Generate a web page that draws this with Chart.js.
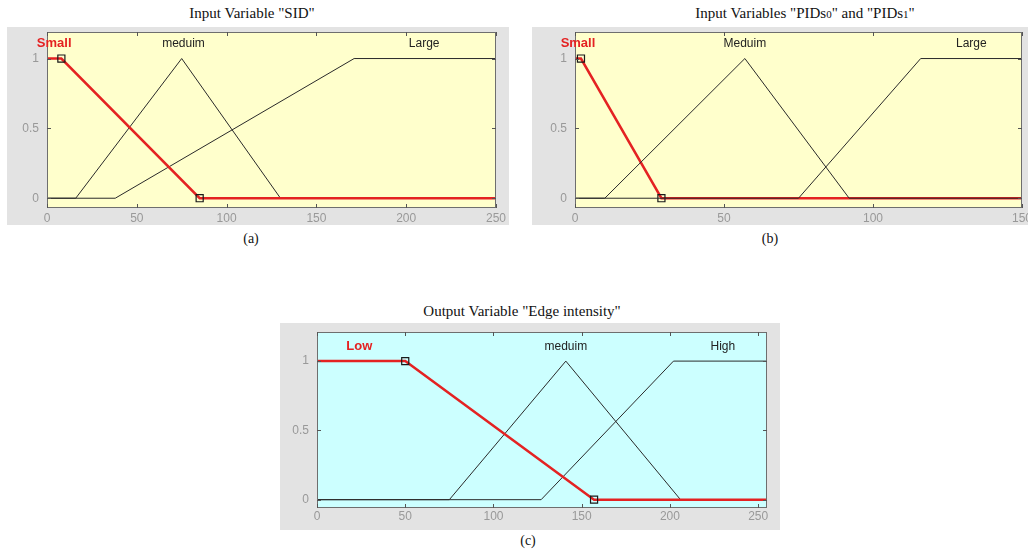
<!DOCTYPE html>
<html>
<head>
<meta charset="utf-8">
<script src="https://cdn.jsdelivr.net/npm/chart.js@4.4.1/dist/chart.umd.min.js"></script>
<style>
    body { margin: 0; background: #fff; width: 1028px; height: 555px; overflow: hidden; position: relative; font-family: "Liberation Serif", serif; }
    canvas { position: absolute; background: #e3e3e3; }
    .titulo { position: absolute; font-size: 15px; color: #111; white-space: nowrap; transform: translateX(-50%); }
    .titulo small { font-size: 11px; }
    .cap { position: absolute; font-size: 14px; color: #111; transform: translateX(-50%); }
</style>
</head>
<body>
<div class="titulo" style="left:252px; top:5px;">Input Variable "SID"</div>
<div class="titulo" style="left:805px; top:5px;">Input Variables "PIDs<small>0</small>" and "PIDs<small>1</small>"</div>
<div class="titulo" style="left:522px; top:303px;">Output Variable "Edge intensity"</div>
<div class="cap" style="left:251px; top:231px;">(a)</div>
<div class="cap" style="left:770px; top:231px;">(b)</div>
<div class="cap" style="left:528px; top:533px;">(c)</div>

<canvas id="graficoSID" width="502" height="198" style="left:7px; top:27px;"></canvas>
<canvas id="graficoPID" width="496" height="198" style="left:532px; top:27px;"></canvas>
<canvas id="graficoEdge" width="500" height="207" style="left:280px; top:323px;"></canvas>

<script>
// Ejes
const sidRango = [0, 250];
const pidRango = [0, 150];
const edgeRango = [0, 255];
const sidTicks = [0, 50, 100, 150, 200, 250];
const pidTicks = [0, 50, 100, 150];
const edgeTicks = [0, 50, 100, 150, 200, 250];
const gradoTicks = [0, 0.5, 1];

// (a) Input Variable "SID"
const sidSmallX = [0, 8, 85, 250];
const sidSmallY = [1, 1, 0, 0];
const sidMedX = [0, 16, 75, 130, 250];
const sidMedY = [0, 0, 1, 0, 0];
const sidLargeX = [0, 38, 171, 250];
const sidLargeY = [0, 0, 1, 1];
const sidNombres = ['Small', 'meduim', 'Large'];
const sidNombresX = [4, 76, 210];

// (b) Input Variables "PIDs0" and "PIDs1"
const pidSmallX = [0, 2, 29, 150];
const pidSmallY = [1, 1, 0, 0];
const pidMedX = [0, 10, 57, 92, 150];
const pidMedY = [0, 0, 1, 0, 0];
const pidLargeX = [0, 75, 116, 150];
const pidLargeY = [0, 0, 1, 1];
const pidNombres = ['Small', 'Meduim', 'Large'];
const pidNombresX = [1, 57, 133];

// (c) Output Variable "Edge intensity"
const edgeLowX = [0, 50, 157, 255];
const edgeLowY = [1, 1, 0, 0];
const edgeMedX = [0, 75, 141, 206, 255];
const edgeMedY = [0, 0, 1, 0, 0];
const edgeHighX = [0, 127, 202, 255];
const edgeHighY = [0, 0, 1, 1];
const edgeNombres = ['Low', 'meduim', 'High'];
const edgeNombresX = [24, 141, 230];

const ROJO = '#e42222';
const NEGRO = '#2a2a2a';

function serie(xs, ys, color, ancho, marcas) {
    return {
        data: xs.map((x, i) => ({ x: x, y: ys[i] })),
        borderColor: color,
        borderWidth: ancho,
        pointRadius: marcas || 0,
        pointStyle: 'rect',
        pointBorderColor: '#1a1a1a',
        pointBackgroundColor: 'rgba(0,0,0,0)',
        pointBorderWidth: 1.2,
        tension: 0,
        fill: false
    };
}

// fondo del area, marco, marcas de eje interiores y nombres de las funciones
const marcoPlugin = {
    id: 'marco',
    beforeDraw(chart, args, opts) {
        const { ctx, chartArea: a } = chart;
        ctx.save();
        ctx.fillStyle = opts.fondo;
        ctx.fillRect(a.left, a.top, a.right - a.left, a.bottom - a.top);
        ctx.restore();
    },
    afterDatasetsDraw(chart, args, opts) {
        const { ctx, chartArea: a, scales } = chart;
        ctx.save();
        ctx.strokeStyle = '#6e6e6e';
        ctx.lineWidth = 1;
        ctx.strokeRect(a.left + 0.5, a.top + 0.5, a.right - a.left - 1, a.bottom - a.top - 1);
        ctx.strokeStyle = '#555';
        ctx.beginPath();
        opts.ticksX.forEach(v => {
            const px = Math.round(scales.x.getPixelForValue(v)) + 0.5;
            ctx.moveTo(px, a.top); ctx.lineTo(px, a.top + 4);
            ctx.moveTo(px, a.bottom); ctx.lineTo(px, a.bottom - 4);
        });
        gradoTicks.forEach(v => {
            const py = Math.round(scales.y.getPixelForValue(v)) + 0.5;
            ctx.moveTo(a.left, py); ctx.lineTo(a.left + 4, py);
            ctx.moveTo(a.right, py); ctx.lineTo(a.right - 4, py);
        });
        ctx.stroke();

        ctx.textAlign = 'center';
        ctx.textBaseline = 'middle';
        opts.nombres.forEach((t, i) => {
            const sel = i === 0;
            ctx.fillStyle = sel ? ROJO : '#222';
            ctx.font = sel ? 'bold 13px "Liberation Sans", Arial' : '12px "Liberation Sans", Arial';
            ctx.fillText(t, scales.x.getPixelForValue(opts.nombresX[i]), scales.y.getPixelForValue(1.105));
        });
        ctx.restore();
    }
};

function crearGrafico(id, datasets, rango, ticksX, yMin, yMax, fondo, nombres, nombresX, caja) {
    const fuente = { family: '"Liberation Sans", Arial', size: 12 };
    return new Chart(document.getElementById(id).getContext('2d'), {
        type: 'line',
        data: { datasets: datasets },
        plugins: [marcoPlugin],
        options: {
            responsive: false,
            animation: false,
            events: [],
            layout: { padding: { left: 0, right: caja.r, top: caja.t, bottom: 0 } },
            plugins: {
                legend: { display: false },
                tooltip: { enabled: false },
                marco: { fondo: fondo, ticksX: ticksX, nombres: nombres, nombresX: nombresX }
            },
            scales: {
                x: {
                    type: 'linear',
                    min: rango[0],
                    max: rango[1],
                    grid: { display: false, drawTicks: false },
                    border: { display: false },
                    ticks: { color: '#999', font: fuente, padding: caja.p, maxRotation: 0, callback: v => String(v) },
                    afterBuildTicks: s => { s.ticks = ticksX.map(v => ({ value: v })); },
                    afterFit: s => { s.height = caja.b; s.paddingLeft = 0; s.paddingRight = 0; }
                },
                y: {
                    min: yMin,
                    max: yMax,
                    grid: { display: false, drawTicks: false },
                    border: { display: false },
                    ticks: { color: '#999', font: fuente, padding: 8, callback: v => String(v) },
                    afterBuildTicks: s => { s.ticks = gradoTicks.map(v => ({ value: v })); },
                    afterFit: s => { s.width = caja.l; s.paddingTop = 0; s.paddingBottom = 0; }
                }
            }
        }
    });
}

// (a) la roja va encima
crearGrafico('graficoSID', [
    serie(sidSmallX, sidSmallY, ROJO, 2.5, [0, 5, 5, 0]),
    serie(sidMedX, sidMedY, NEGRO, 1),
    serie(sidLargeX, sidLargeY, NEGRO, 1)
], sidRango, sidTicks, -0.07, 1.19, '#ffffcc', sidNombres, sidNombresX, { l: 40, r: 13, t: 5, b: 17, p: 3 });

// (b) la roja queda debajo de las negras
crearGrafico('graficoPID', [
    serie(pidMedX, pidMedY, NEGRO, 1),
    serie(pidLargeX, pidLargeY, NEGRO, 1),
    serie(pidSmallX, pidSmallY, ROJO, 2.5, [0, 5, 5, 0])
], pidRango, pidTicks, -0.07, 1.19, '#ffffcc', pidNombres, pidNombresX, { l: 43, r: 6, t: 5, b: 17, p: 3 });

// (c)
crearGrafico('graficoEdge', [
    serie(edgeLowX, edgeLowY, ROJO, 2.5, [0, 5, 5, 0]),
    serie(edgeMedX, edgeMedY, NEGRO, 1),
    serie(edgeHighX, edgeHighY, NEGRO, 1)
], edgeRango, edgeTicks, -0.06, 1.21, '#ccffff', edgeNombres, edgeNombresX, { l: 37, r: 13, t: 9, b: 22, p: 1 });
</script>
</body>
</html>
